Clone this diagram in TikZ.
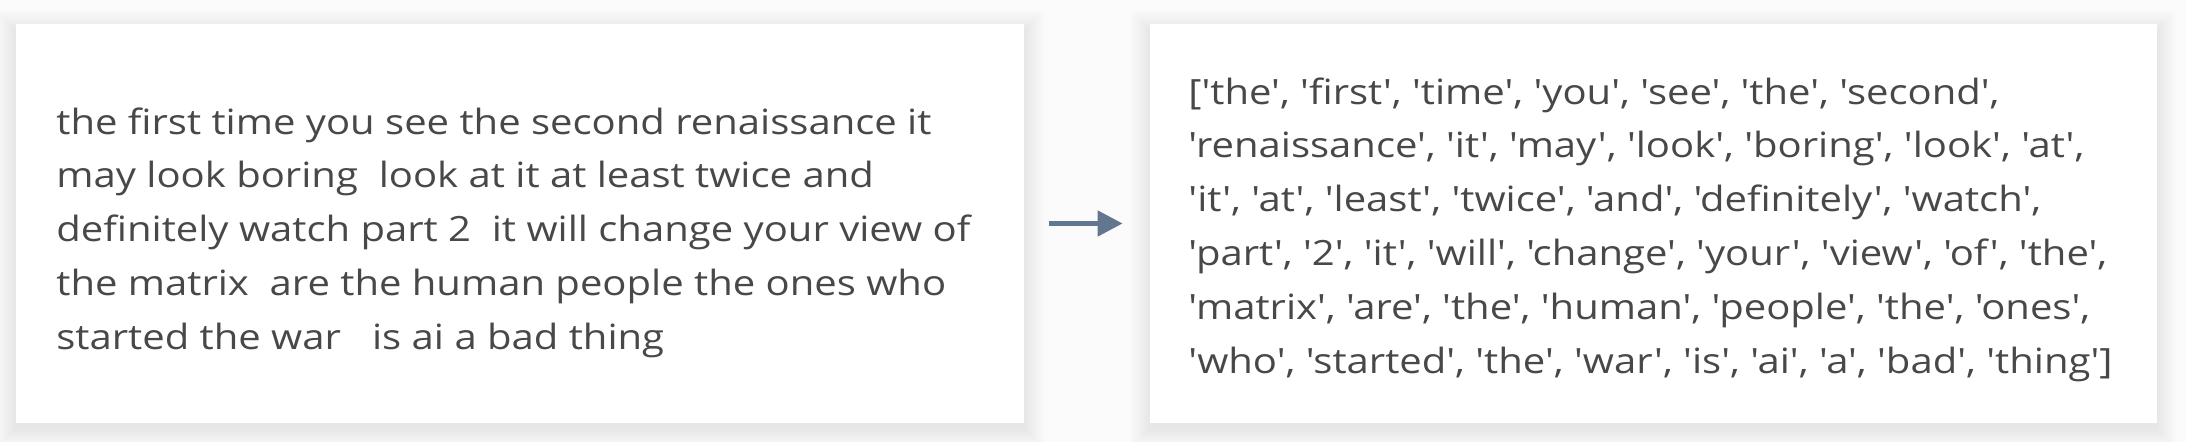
\documentclass[tikz,border=0pt]{standalone}
\usepackage{fontspec}
\setmainfont{Open Sans}[Ligatures=TeXOff, FakeStretch=1.15]
\usepackage{tikz}
\usetikzlibrary{arrows.meta}
\usetikzlibrary{positioning}

\definecolor{txtgray}{RGB}{72,72,72}
\definecolor{arrowblue}{RGB}{98,119,143}
\definecolor{pagegray}{RGB}{251,251,251}

\tikzset{
  card/.style={draw=none, fill=white, rectangle, minimum width=1008*0.5pt, minimum height=399*0.5pt, inner sep=0pt},
  cardtext/.style={anchor=north west, inner sep=0pt, align=left, text=txtgray, font=\fontsize{17.4}{26.95}\selectfont},
}

\begin{document}
\begin{tikzpicture}[x=0.5pt,y=0.5pt,yscale=-1,xscale=1]
%background, sets the page at 2186 x 442
\fill[pagegray] (0,0) rectangle (2186,442);
\useasboundingbox (0,0) rectangle (2186,442);

%soft shadows under both cards
\foreach \s in {1,...,20}{
  \fill[black, opacity=0.005] (15-\s,24-\s+6) rectangle (1025+\s,423+\s+6);
  \fill[black, opacity=0.005] (1150-\s,24-\s+6) rectangle (2157+\s,423+\s+6);
}

%Shape: Cards
\node[card] (raw) at (520,223.5) {};
\node[card, minimum width=1007*0.5pt] (tokens) at (1653.5,223.5) {};

% Text Node
\node[cardtext] (rawtext) at (56,107) {the first time you see the second renaissance it\\
may look boring\ \ look at it at least twice and\\
definitely watch part 2\ \ it will change your view of\\
the matrix\ \ are the human people the ones who\\
started the war\ \ \ is ai a bad thing};
% Text Node
\node[cardtext] (tokentext) at (1188,77) {['the', 'first', 'time', 'you', 'see', 'the', 'second',\\
'renaissance', 'it', 'may', 'look', 'boring', 'look', 'at',\\
'it', 'at', 'least', 'twice', 'and', 'definitely', 'watch',\\
'part', '2', 'it', 'will', 'change', 'your', 'view', 'of', 'the',\\
'matrix', 'are', 'the', 'human', 'people', 'the', 'ones',\\
'who', 'started', 'the', 'war', 'is', 'ai', 'a', 'bad', 'thing']};

%Straight Lines
\draw[arrowblue, line width=2.4pt, -{Triangle[length=12.5pt, width=12.5pt]}, shorten <=12.5pt, shorten >=13.5pt] (raw.east) -- (tokens.west);

\end{tikzpicture}
\end{document}
